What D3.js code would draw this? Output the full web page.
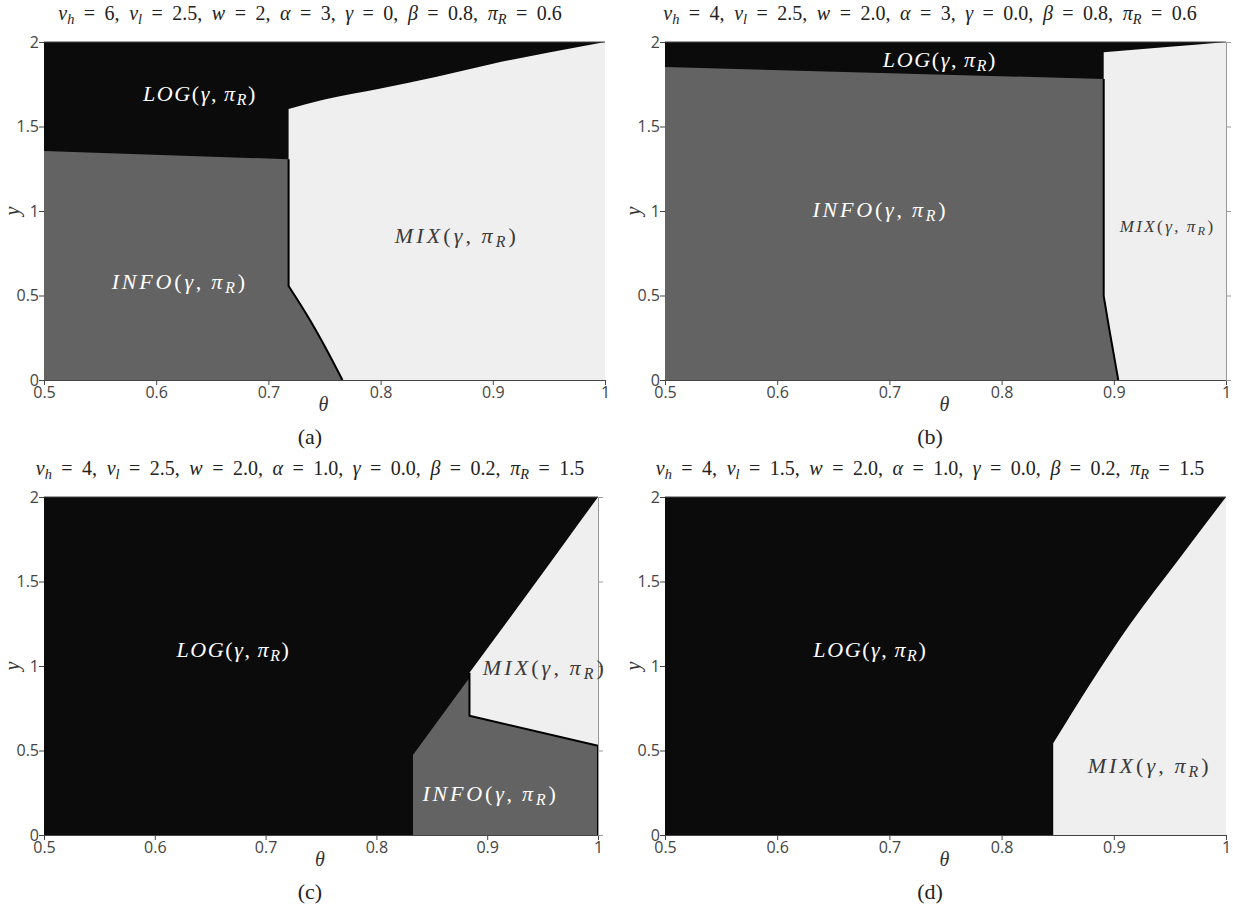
<!DOCTYPE html>
<html>
<head>
<meta charset="utf-8">
<script src="https://cdn.jsdelivr.net/npm/d3@7"></script>
<style>
  html, body { margin: 0; padding: 0; background: #fff; }
  svg { display: block; }
  .tick text { font-family: "Open Sans", sans-serif; font-size: 16px; fill: #444; }
  .math { font-family: "Liberation Serif", serif; }
</style>
</head>
<body>
<svg id="fig" width="1233" height="909"></svg>
<script>
// ---- axis ticks ----
const thetaTicks = [0.5, 0.6, 0.7, 0.8, 0.9, 1];
const yTicks = [0, 0.5, 1, 1.5, 2];

// ---- parameter values shown in the panel titles ----
const vhValues    = ["6", "4", "4", "4"];
const vlValues    = ["2.5", "2.5", "2.5", "1.5"];
const wValues     = ["2", "2.0", "2.0", "2.0"];
const alphaValues = ["3", "3", "1.0", "1.0"];
const gammaValues = ["0", "0.0", "0.0", "0.0"];
const betaValues  = ["0.8", "0.8", "0.2", "0.2"];
const piRValues   = ["0.6", "0.6", "1.5", "1.5"];
const captions    = ["(a)", "(b)", "(c)", "(d)"];

// ---- regime boundaries, [theta, y] ----
// (a)
const aInfoTop  = [[0.5, 1.355], [0.718, 1.306]];
const aMixTop   = [[0.718, 1.604], [0.75, 1.66], [0.8, 1.725], [0.85, 1.795], [0.9, 1.872], [0.95, 1.938], [1.0, 2.0]];
const aInfoMixV = [[0.718, 1.306], [0.718, 0.556]];
const aInfoMixC = [[0.718, 0.556], [0.737, 0.355], [0.752, 0.178], [0.766, 0]];
// (b)
const bInfoTop  = [[0.5, 1.852], [0.891, 1.781]];
const bMixTop   = [[0.891, 1.94], [0.95, 1.972], [1.0, 2.0]];
const bInfoMixV = [[0.891, 1.781], [0.891, 0.497]];
const bInfoMixC = [[0.891, 0.497], [0.896, 0.3], [0.9, 0.15], [0.904, 0]];
// (c)
const cInfoLog  = [[0.833, 0], [0.833, 0.473], [0.884, 0.93]];
const cMixTop   = [[0.884, 0.96], [0.93, 1.37], [0.97, 1.73], [1.0, 2.0]];
const cInfoMix  = [[0.884, 0.96], [0.884, 0.706], [1.0, 0.528], [1.0, 0]];
// (d)
const dMixV     = [[0.846, 0], [0.846, 0.543]];
const dMixC     = [[0.846, 0.543], [0.914, 1.243], [0.96, 1.65], [1.0, 2.0]];

const COLORS = { LOG: "#0b0b0b", INFO: "#636363", MIX: "#efefef" };
const LIN = d3.curveLinear, SMOOTH = d3.curveMonotoneX;
const rev = a => a.slice().reverse();

// each regime is an ordered chain of boundary pieces [points, curve]
const panels = [
  {
    box: { left: 44, right: 605, top: 42, bottom: 380 },
    mirror: false,
    regions: [
      { kind: "INFO", segs: [[[[0.5, 0]].concat(aInfoTop, aInfoMixV), LIN], [aInfoMixC, SMOOTH]] },
      { kind: "MIX",  segs: [[aMixTop, SMOOTH], [[[1.0, 2.0], [1.0, 0]].concat([aInfoMixC[aInfoMixC.length - 1]]), LIN], [rev(aInfoMixC), SMOOTH]] }
    ],
    edges: [[aInfoMixV, LIN], [aInfoMixC, SMOOTH]],
    labels: [
      { kind: "LOG",  at: [0.639, 1.68], size: 22 },
      { kind: "INFO", at: [0.621, 0.568], size: 22 },
      { kind: "MIX",  at: [0.868, 0.84], size: 22 }
    ]
  },
  {
    box: { left: 665, right: 1226, top: 42, bottom: 380 },
    mirror: true,
    regions: [
      { kind: "INFO", segs: [[[[0.5, 0]].concat(bInfoTop, bInfoMixV), LIN], [bInfoMixC, SMOOTH]] },
      { kind: "MIX",  segs: [[bMixTop, SMOOTH], [[[1.0, 2.0], [1.0, 0], bInfoMixC[bInfoMixC.length - 1]], LIN], [rev(bInfoMixC), SMOOTH], [rev(bInfoMixV), LIN]] }
    ],
    edges: [[bInfoMixV, LIN], [bInfoMixC, SMOOTH]],
    labels: [
      { kind: "LOG",  at: [0.745, 1.882], size: 22 },
      { kind: "INFO", at: [0.692, 0.994], size: 22 },
      { kind: "MIX",  at: [0.948, 0.899], size: 17 }
    ]
  },
  {
    box: { left: 44, right: 598, top: 497, bottom: 835 },
    mirror: true,
    regions: [
      { kind: "INFO", segs: [[cInfoLog.concat(cInfoMix.slice(1)), LIN]] },
      { kind: "MIX",  segs: [[cMixTop, SMOOTH], [[[1.0, 2.0]].concat(rev(cInfoMix.slice(0, 3))), LIN]] }
    ],
    edges: [[cInfoMix, LIN]],
    labels: [
      { kind: "LOG",  at: [0.671, 1.083], size: 22 },
      { kind: "MIX",  at: [0.952, 0.976], size: 22 },
      { kind: "INFO", at: [0.903, 0.231], size: 22 }
    ]
  },
  {
    box: { left: 665, right: 1226, top: 497, bottom: 835 },
    mirror: false,
    regions: [
      { kind: "MIX", segs: [[dMixV, LIN], [dMixC, SMOOTH], [[[1.0, 2.0], [1.0, 0]], LIN]] }
    ],
    edges: [],
    labels: [
      { kind: "LOG", at: [0.683, 1.083], size: 22 },
      { kind: "MIX", at: [0.932, 0.396], size: 22 }
    ]
  }
];

// rendered widths of the regime names at 22px
const LABEL_WIDTH = { LOG: 114, INFO: 136, MIX: 124 };

const svg = d3.select("#fig");
const colCenters = [310, 930];

// writes a run of [text, style] pieces into a <text> element
function richText(sel, pieces, size) {
  let lowered = false;
  pieces.forEach(([t, style]) => {
    const ts = sel.append("tspan").text(t);
    if (style === "i" || style === "sub") ts.attr("font-style", "italic");
    if (style === "sub") {
      ts.attr("font-size", size * 0.72);
      if (!lowered) { ts.attr("dy", size * 0.22); lowered = true; }
    } else if (lowered) {
      ts.attr("dy", -size * 0.22); lowered = false;
    }
  });
}

function regimePieces(kind) {
  return [[kind, "i"], ["(", ""], ["γ", "i"], [",\u2009", ""], ["π", "i"], ["R", "sub"], [")", ""]];
}

function chainPath(segs, x, y) {
  return segs.map(([pts, curve], k) => {
    const s = d3.line().x(d => x(d[0])).y(d => y(d[1])).curve(curve)(pts);
    return k === 0 ? s : s.replace(/^M/, "L");
  }).join("");
}

panels.forEach((p, i) => {
  const { left, right, top, bottom } = p.box;
  const x = d3.scaleLinear().domain([0.5, 1]).range([left, right]);
  const y = d3.scaleLinear().domain([0, 2]).range([bottom, top]);
  const g = svg.append("g");

  // LOG fills the whole plane; other regimes are laid over it
  g.append("rect")
    .attr("x", x(0.5)).attr("y", y(2))
    .attr("width", x(1) - x(0.5)).attr("height", y(0) - y(2))
    .attr("fill", COLORS.LOG);

  p.regions.forEach(r => {
    g.append("path").attr("d", chainPath(r.segs, x, y) + "Z").attr("fill", COLORS[r.kind]);
  });
  if (p.edges.length) {
    g.append("path").attr("d", chainPath(p.edges, x, y)).attr("fill", "none")
      .attr("stroke", "#000").attr("stroke-width", 2).attr("stroke-linejoin", "round");
  }

  // top frame line
  g.append("line")
    .attr("x1", x(0.5)).attr("x2", x(1)).attr("y1", y(2)).attr("y2", y(2))
    .attr("stroke", "#444").attr("stroke-width", 1);

  // axes
  const xAxis = d3.axisBottom(x).tickValues(thetaTicks).tickFormat(d3.format("")).tickSize(5).tickPadding(2);
  g.append("g").attr("transform", `translate(0,${bottom})`).call(xAxis)
    .call(a => a.selectAll("line, path").attr("stroke", "#444"));
  const yAxis = d3.axisLeft(y).tickValues(yTicks).tickFormat(d3.format("")).tickSize(5).tickPadding(0);
  g.append("g").attr("transform", `translate(${left},0)`).call(yAxis)
    .call(a => a.selectAll("line, path").attr("stroke", "#444"))
    .call(a => a.select(".domain").remove());
  if (p.mirror) {
    const yMirror = d3.axisRight(y).tickValues(yTicks).tickFormat("").tickSize(5);
    g.append("g").attr("transform", `translate(${right},0)`).call(yMirror)
      .call(a => a.selectAll("line, path").attr("stroke", "#999"));
  }

  // axis titles
  g.append("text").attr("class", "math")
    .attr("x", x(0.749)).attr("y", bottom + 31)
    .attr("text-anchor", "middle").attr("font-size", 20).attr("font-style", "italic")
    .attr("fill", "#333").text("θ");
  g.append("text").attr("class", "math")
    .attr("transform", `translate(${left - 25},${(top + bottom) / 2}) rotate(-90)`)
    .attr("text-anchor", "middle").attr("font-size", 20).attr("font-style", "italic")
    .attr("fill", "#333").text("y");

  // regime labels, spaced out to the width of the math typeface
  p.labels.forEach(l => {
    const t = g.append("text").attr("class", "math")
      .attr("x", x(l.at[0])).attr("y", y(l.at[1]))
      .attr("text-anchor", "middle").attr("dominant-baseline", "middle")
      .attr("font-size", l.size)
      .attr("fill", l.kind === "MIX" ? "#3a3a3a" : "#fff");
    richText(t, regimePieces(l.kind), l.size);
    const target = LABEL_WIDTH[l.kind] * l.size / 22;
    const natural = t.node().getComputedTextLength();
    const nChars = t.text().length;
    t.attr("letter-spacing", Math.max(0, (target - natural) / nChars));
  });

  // panel title and caption
  const cx = colCenters[i % 2];
  const title = g.append("text").attr("class", "math")
    .attr("x", cx).attr("y", top - 22).attr("text-anchor", "middle")
    .attr("font-size", 20).attr("word-spacing", 4.5).attr("fill", "#222");
  richText(title, [
    ["v", "i"], ["h", "sub"], [" = " + vhValues[i] + ", ", ""],
    ["v", "i"], ["l", "sub"], [" = " + vlValues[i] + ", ", ""],
    ["w", "i"], [" = " + wValues[i] + ", ", ""],
    ["α", "i"], [" = " + alphaValues[i] + ", ", ""],
    ["γ", "i"], [" = " + gammaValues[i] + ", ", ""],
    ["β", "i"], [" = " + betaValues[i] + ", ", ""],
    ["π", "i"], ["R", "sub"], [" = " + piRValues[i], ""]
  ], 20);

  g.append("text").attr("class", "math")
    .attr("x", cx).attr("y", bottom + 64).attr("text-anchor", "middle")
    .attr("font-size", 22).attr("fill", "#222").text(captions[i]);
});
</script>
</body>
</html>
